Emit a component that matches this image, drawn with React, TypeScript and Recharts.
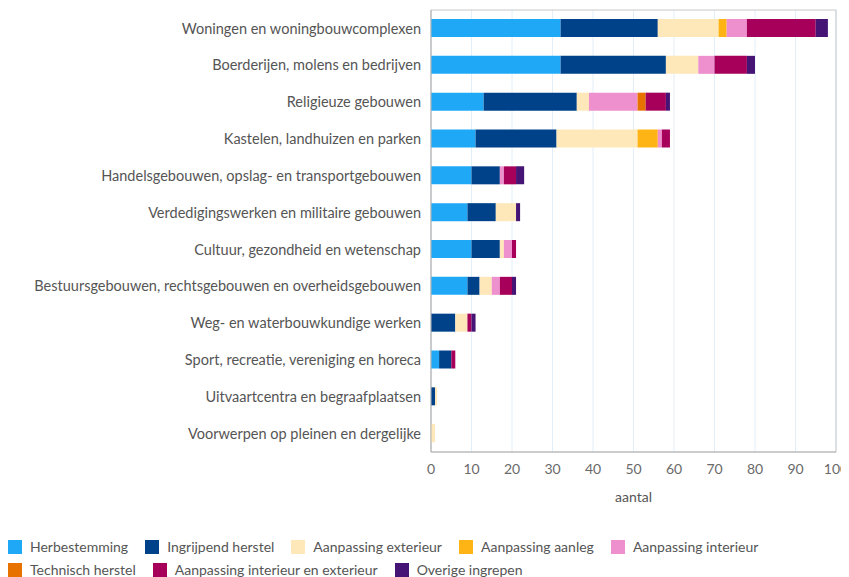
import { BarChart, Bar, XAxis, YAxis, CartesianGrid, ReferenceArea } from 'recharts';

const categories = [
  'Woningen en woningbouwcomplexen',
  'Boerderijen, molens en bedrijven',
  'Religieuze gebouwen',
  'Kastelen, landhuizen en parken',
  'Handelsgebouwen, opslag- en transportgebouwen',
  'Verdedigingswerken en militaire gebouwen',
  'Cultuur, gezondheid en wetenschap',
  'Bestuursgebouwen, rechtsgebouwen en overheidsgebouwen',
  'Weg- en waterbouwkundige werken',
  'Sport, recreatie, vereniging en horeca',
  'Uitvaartcentra en begraafplaatsen',
  'Voorwerpen op pleinen en dergelijke',
];

const herbestemming = [32, 32, 13, 11, 10, 9, 10, 9, 0, 2, 0, 0];
const ingrijpendHerstel = [24, 26, 23, 20, 7, 7, 7, 3, 6, 3, 1, 0];
const aanpassingExterieur = [15, 8, 3, 20, 0, 5, 1, 3, 3, 0, 0.5, 1];
const aanpassingAanleg = [2, 0, 0, 5, 0, 0, 0, 0, 0, 0, 0, 0];
const aanpassingInterieur = [5, 4, 12, 1, 1, 0, 2, 2, 0, 0, 0, 0];
const technischHerstel = [0, 0, 2, 0, 0, 0, 0, 0, 0, 0, 0, 0];
const interieurEnExterieur = [17, 8, 5, 2, 3, 0, 1, 3, 1, 1, 0, 0];
const overigeIngrepen = [3, 2, 1, 0, 2, 1, 0, 1, 1, 0, 0, 0];

const xTicks = [0, 10, 20, 30, 40, 50, 60, 70, 80, 90, 100];

const series = [
  { key: 'herbestemming', name: 'Herbestemming', color: '#1fa8f6', values: herbestemming },
  { key: 'ingrijpend', name: 'Ingrijpend herstel', color: '#00428a', values: ingrijpendHerstel },
  { key: 'exterieur', name: 'Aanpassing exterieur', color: '#fee7b8', values: aanpassingExterieur },
  { key: 'aanleg', name: 'Aanpassing aanleg', color: '#ffb416', values: aanpassingAanleg },
  { key: 'interieur', name: 'Aanpassing interieur', color: '#ee90cd', values: aanpassingInterieur },
  { key: 'technisch', name: 'Technisch herstel', color: '#e87200', values: technischHerstel },
  { key: 'intext', name: 'Aanpassing interieur en exterieur', color: '#a6005b', values: interieurEnExterieur },
  { key: 'overige', name: 'Overige ingrepen', color: '#451475', values: overigeIngrepen },
];

const data = categories.map((name, i) => {
  const row: Record<string, string | number> = { name };
  series.forEach(s => {
    row[s.key] = s.values[i];
  });
  return row;
});

const font = 'Lato, "Open Sans", sans-serif';

export default function App() {
  return (
    <div style={{ fontFamily: font }}>
      <BarChart
        width={841}
        height={500}
        data={data}
        layout="vertical"
        margin={{ top: 2, right: 13, bottom: 0, left: 0 }}
        barCategoryGap="25%"
      >
        <CartesianGrid horizontal={false} stroke="#e2eff8" />
        <ReferenceArea x1={0} x2={100} fill="none" stroke="#c8c8c8" strokeWidth={1} />
        <XAxis
          type="number"
          domain={[0, 100]}
          ticks={xTicks}
          tickLine={false}
          axisLine={{ stroke: '#b5b5b5' }}
          tick={{ fill: '#6a6a6a', fontSize: 14, fontFamily: font }}
          tickMargin={6}
          height={56}
          label={{ value: 'aantal', position: 'insideBottom', offset: 6, fill: '#555', fontSize: 14, fontFamily: font }}
        />
        <YAxis
          type="category"
          dataKey="name"
          width={423}
          tickLine={false}
          axisLine={{ stroke: '#b5b5b5' }}
          tick={{ fill: '#555', fontSize: 14.5, fontFamily: font }}
          tickMargin={4}
          interval={0}
        />
        {series.map(s => (
          <Bar
            key={s.key}
            dataKey={s.key}
            name={s.name}
            stackId="a"
            fill={s.color}
            barSize={18}
            isAnimationActive={false}
          />
        ))}
      </BarChart>
      <div
        style={{
          display: 'flex',
          flexWrap: 'wrap',
          width: 790,
          marginTop: 30,
          rowGap: 6,
          fontSize: 14,
          lineHeight: '17px',
          color: '#555',
        }}
      >
        {series.map(s => (
          <div key={s.key} style={{ display: 'flex', alignItems: 'center', marginRight: 17 }}>
            <span style={{ width: 14, height: 14, background: s.color, display: 'inline-block', marginRight: 8 }} />
            <span>{s.name}</span>
          </div>
        ))}
      </div>
    </div>
  );
}
